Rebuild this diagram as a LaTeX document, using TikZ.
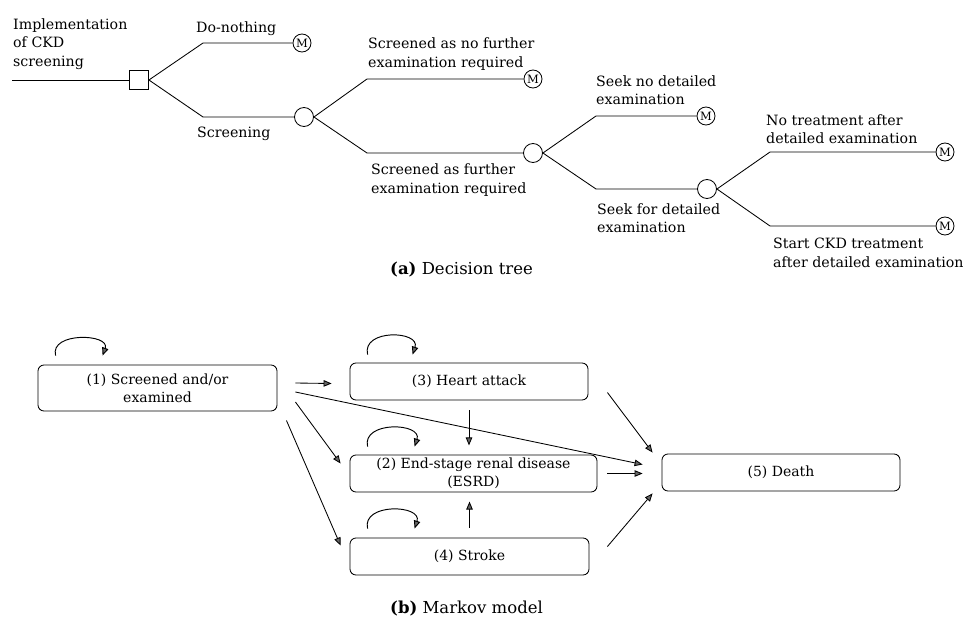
\documentclass[tikz,border=0pt]{standalone}
\usepackage{fontspec}
\setmainfont{DejaVu Serif}
\usetikzlibrary{arrows.meta,calc}
\tikzset{
  tree/.style={line width=0.85pt, line join=round},
  decsq/.style={draw, line width=0.85pt, minimum size=19pt, inner sep=0pt},
  chance/.style={draw, circle, line width=0.85pt, minimum size=19pt, inner sep=0pt, fill=white},
  mnode/.style={draw, circle, line width=0.85pt, minimum size=18pt, inner sep=0pt, font=\fontsize{11.5}{11.5}\selectfont, fill=white},
  lab/.style={anchor=west, align=left, inner sep=0pt, font=\fontsize{14.2}{18.5}\selectfont},
  state/.style={draw, rounded corners=6pt, line width=0.85pt, inner sep=0pt, align=center, font=\fontsize{14}{18}\selectfont},
  arr/.style={line width=0.85pt, -{Triangle[length=8pt,width=6.5pt,fill=black!60]}},
  loopa/.style={line width=0.95pt, -{Triangle[length=8pt,width=6.5pt,fill=black!60]}},
  captext/.style={inner sep=0pt, font=\fontsize{16.5}{18}\selectfont}
}
\begin{document}
\begin{tikzpicture}[x=1pt,y=-1pt]
\useasboundingbox (0,0) rectangle (973,621);
% ---------- (a) decision tree ----------
\coordinate (root) at (12,80);
\node[decsq] (d) at (139,80) {};
\coordinate (k1) at (203,43);
\coordinate (k2) at (203,117);
\node[mnode] (m1) at (302,43) {M};
\node[chance] (c1) at (304,117) {};
\coordinate (k3) at (367,79);
\coordinate (k4) at (367,153);
\node[mnode] (m2) at (533,79) {M};
\node[chance] (c2) at (533,153) {};
\coordinate (k5) at (596,116);
\coordinate (k6) at (596,189);
\node[mnode] (m3) at (706,116) {M};
\node[chance] (c3) at (707,189) {};
\coordinate (k7) at (770,152);
\coordinate (k8) at (770,226);
\node[mnode] (m4) at (945,152) {M};
\node[mnode] (m5) at (945,226) {M};

\draw[tree] (root) -- (d.west);
\draw[tree] (d.east) -- (k1) -- (m1.west);
\draw[tree] (d.east) -- (k2) -- (c1.west);
\draw[tree] (c1.east) -- (k3) -- (m2.west);
\draw[tree] (c1.east) -- (k4) -- (c2.west);
\draw[tree] (c2.east) -- (k5) -- (m3.west);
\draw[tree] (c2.east) -- (k6) -- (c3.west);
\draw[tree] (c3.east) -- (k7) -- (m4.west);
\draw[tree] (c3.east) -- (k8) -- (m5.west);

\node[lab] (t0) at (13,44) {Implementation\\of CKD\\screening};
\node[lab] (t1) at (196,29) {Do-nothing};
\node[lab] (t2) at (197,134) {Screening};
\node[lab] (t3) at (368,54) {Screened as no further\\examination required};
\node[lab] (t4) at (371,180) {Screened as further\\examination required};
\node[lab] (t5) at (596,90) {Seek no detailed\\examination};
\node[lab] (t6) at (597,218) {Seek for detailed\\examination};
\node[lab] (t7) at (766,129) {No treatment after\\detailed examination};
\node[lab] (t8) at (773,253) {Start CKD treatment\\after detailed examination};

\node[captext, anchor=west] (capa) at (390,270) {\textbf{(a)} Decision tree};

% ---------- (b) Markov model ----------
\node[state, minimum width=239pt, minimum height=46pt] (b1) at (157.5,388) {(1) Screened and/or\\examined};
\node[state, minimum width=238pt, minimum height=37pt] (b3) at (469,381.5) {(3) Heart attack};
\node[state, minimum width=247pt, minimum height=37pt] (b2) at (473.5,473.5) {(2) End-stage renal disease\\(ESRD)};
\node[state, minimum width=239pt, minimum height=37pt] (b4) at (469.5,556.5) {(4) Stroke};
\node[state, minimum width=238pt, minimum height=37pt] (b5) at (781,472.5) {(5) Death};

% self loops
\draw[loopa] ($(b1.north west)+(18,-9)$) .. controls +(-6,-24) and +(8,-22) .. ($(b1.north west)+(65,-9)$);
\draw[loopa] ($(b3.north west)+(18,-8)$) .. controls +(-6,-26) and +(8,-24) .. ($(b3.north west)+(63,-8)$);
\draw[loopa] ($(b2.north west)+(18,-8)$) .. controls +(-6,-26) and +(8,-24) .. ($(b2.north west)+(65,-8)$);
\draw[loopa] ($(b4.north west)+(18,-9)$) .. controls +(-6,-26) and +(8,-24) .. ($(b4.north west)+(65,-9)$);

% transitions
\draw[arr] ($(b1.east)+(18,-5)$) -- ($(b3.west)+(-18,2)$);
\draw[arr] ($(b1.east)+(18,4)$) -- ($(b5.west)+(-19,-8)$);
\draw[arr] ($(b1.east)+(18,14)$) -- ($(b2.west)+(-9,-10)$);
\draw[arr] ($(b1.south east)+(9,9)$) -- ($(b4.west)+(-9,-11)$);
\draw[arr] ($(b3.south)+(0,10)$) -- ($(b3.south)+(0,45)$);
\draw[arr] ($(b4.north)+(0,-10)$) -- ($(b4.north)+(0,-36)$);
\draw[arr] ($(b3.east)+(19,11)$) -- ($(b5.north west)+(-9,-1)$);
\draw[arr] ($(b2.east)+(10,0)$) -- ($(b5.west)+(-19,1)$);
\draw[arr] ($(b4.east)+(18,-10)$) -- ($(b5.south west)+(-9,2)$);

\node[captext, anchor=west] (capb) at (390,609) {\textbf{(b)} Markov model};
\end{tikzpicture}
\end{document}
